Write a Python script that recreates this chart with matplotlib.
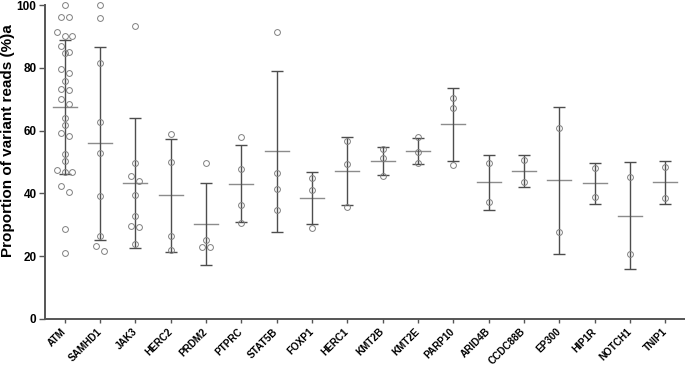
import numpy as np
import matplotlib.pyplot as plt

plt.rcParams['font.family'] = ['Liberation Sans', 'DejaVu Sans']

genes = ['ATM', 'SAMHD1', 'JAK3', 'HERC2', 'PRDM2', 'PTPRC', 'STAT5B', 'FOXP1',
         'HERC1', 'KMT2B', 'KMT2E', 'PARP10', 'ARID4B', 'CCDC88B', 'EP300',
         'HIP1R', 'NOTCH1', 'TNIP1']

# variant read proportions (%) per gene
values = [
    [100, 96.3, 96.3, 91.3, 90, 90, 87, 85.1, 84.8, 79.7, 78.5, 75.7, 73.4, 72.9,
     70.2, 68.4, 64, 61.9, 59.1, 58.3, 52.5, 50.4, 47.5, 46.9, 46.7, 42.2, 40.5,
     28.6, 21],
    [100, 96, 81.7, 62.6, 53, 39.2, 26.5, 23.2, 21.7],
    [93.4, 49.6, 45.6, 43.8, 39.6, 32.9, 29.7, 29.4, 23.9],
    [58.8, 50, 26.3, 22],
    [49.8, 25, 22.9, 22.9],
    [58.1, 47.6, 36.2, 30.5],
    [91.4, 46.6, 41.4, 34.6],
    [44.9, 41.1, 29.1],
    [56.7, 49.2, 35.6],
    [54.2, 51.4, 45.6],
    [58, 53.1, 49.8],
    [70.3, 67.2, 48.9],
    [49.8, 37.3],
    [50.7, 43.6],
    [60.8, 27.7],
    [48, 38.7],
    [45.1, 20.8],
    [48.3, 38.5],
]

# mean and SD shown by the horizontal line and error bars
means = [67.5, 55.9, 43.2, 39.4, 30.1, 43.1, 53.4, 38.4, 47.0, 50.4, 53.5, 62.0,
         43.5, 47.1, 44.2, 43.2, 32.9, 43.5]
sds = [21.3, 30.8, 20.7, 18.0, 13.1, 12.2, 25.7, 8.3, 10.8, 4.4, 4.0, 11.6,
       8.8, 5.0, 23.4, 6.5, 17.1, 6.8]


def row_offsets(vals, thresh=2.0, step=0.218):
    # group close values into rows and centre each row around the category
    order = np.argsort(vals)[::-1]
    offs = np.zeros(len(vals))
    rows = []
    for i in order:
        if rows and vals[rows[-1][0]] - vals[i] <= thresh:
            rows[-1].append(i)
        else:
            rows.append([i])
    for r in rows:
        n = len(r)
        for k, i in enumerate(r):
            offs[i] = (k - (n - 1) / 2) * step
    return offs


fig = plt.figure(figsize=(6.85, 3.66), dpi=100)
ax = fig.add_axes([0.0655, 0.129, 0.934, 0.857])

x = np.arange(len(genes))
for i, v in enumerate(values):
    v = np.array(v)
    ax.plot(x[i] + row_offsets(v), v, 'o', mfc='none', mec='#808080',
            ms=4.2, mew=0.7, clip_on=False, zorder=3)
    ax.plot([x[i] - 0.34, x[i] + 0.34], [means[i], means[i]], color='#8c8c8c',
            lw=1.0, zorder=2)

ax.errorbar(x, means, yerr=sds, fmt='none', ecolor='#4d4d4d', elinewidth=1.0,
            capsize=4.3, capthick=1.0, zorder=2)

ax.set_xlim(-0.56, len(genes) - 0.45)
ax.set_ylim(0, 100)
ax.set_yticks([0, 20, 40, 60, 80, 100])
ax.set_xticks(x)
ax.set_xticklabels(genes, rotation=45, ha='right', va='center',
                   rotation_mode='anchor', fontsize=7.2, fontweight='bold')
for t in ax.get_yticklabels():
    t.set_fontweight('bold')
    t.set_fontsize(8.5)
ax.set_ylabel('Proportion of variant reads (%)a', fontsize=11,
              fontweight='bold')
ax.yaxis.set_label_coords(-0.046, 0.567)

for s in ['top', 'right']:
    ax.spines[s].set_visible(False)
for s in ['left', 'bottom']:
    ax.spines[s].set_color('#555555')
    ax.spines[s].set_linewidth(1.4)
ax.tick_params(axis='both', color='#555555', width=1.0, length=4, pad=2)
ax.tick_params(axis='x', length=3, pad=5)

fig.savefig('out.png', dpi=100)
